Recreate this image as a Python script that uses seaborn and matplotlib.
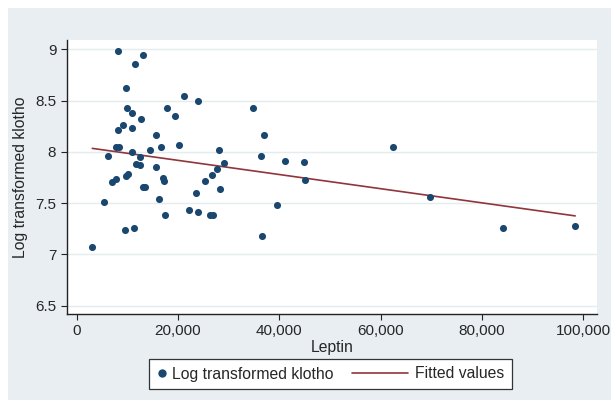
import matplotlib
matplotlib.use("Agg")
import matplotlib.pyplot as plt
import matplotlib.ticker as mticker
import pandas as pd
import seaborn as sns
from matplotlib.lines import Line2D
from matplotlib.patches import Rectangle
from matplotlib.legend_handler import HandlerBase

# leptin vs log klotho
leptin = [3100, 5500, 6200, 7000, 7700, 7800, 8400, 8100, 8100, 9100,
          9500, 9800, 9900, 9800, 10200, 10900, 10900, 11000, 11400, 11600,
          11800, 12600, 12500, 12700, 13200, 13200, 13600, 14500, 15600, 15600,
          16200, 16600, 17000, 17200, 17400, 17900, 19400, 20300, 21100, 22200,
          23600, 24000, 24000, 25300, 26300, 27000, 26700, 27800, 28100, 28300,
          29100, 34900, 36400, 37000, 36600, 39600, 41100, 44900, 45100, 62500,
          69800, 84100, 98400]
klotho = [7.07, 7.51, 7.96, 7.71, 7.74, 8.045, 8.05, 8.21, 8.98, 8.26,
          7.24, 8.62, 8.43, 7.76, 7.78, 8.38, 8.23, 8.00, 7.26, 8.86,
          7.88, 7.87, 7.95, 8.32, 8.94, 7.66, 7.66, 8.02, 8.16, 7.85,
          7.54, 8.05, 7.75, 7.72, 7.38, 8.43, 8.35, 8.07, 8.54, 7.43,
          7.60, 8.50, 7.41, 7.72, 7.38, 7.38, 7.77, 7.83, 8.02, 7.64,
          7.89, 8.43, 7.96, 8.16, 7.18, 7.48, 7.91, 7.90, 7.73, 8.05,
          7.56, 7.26, 7.28]

df = pd.DataFrame({"Leptin": leptin, "klotho": klotho})

navy = "#1a476f"
maroon = "#90353b"
bg = "#e8eef1"

sns.set_style("white")
plt.rcParams["font.family"] = ["Liberation Sans", "DejaVu Sans"]

fig = plt.figure(figsize=(6.11, 4.0), dpi=100)
fig.patch.set_facecolor("white")
fig.add_artist(Rectangle((8 / 611, 0), 1, 1 - 8 / 400, transform=fig.transFigure,
                         facecolor=bg, edgecolor="none", zorder=-5))

ax = fig.add_axes([66.7 / 611, 1 - 314 / 400, (597 - 66.7) / 611, (314 - 40) / 400])
ax.set_facecolor("white")

sns.scatterplot(data=df, x="Leptin", y="klotho", color=navy, s=26,
                linewidth=0, ax=ax, zorder=3)
sns.regplot(data=df, x="Leptin", y="klotho", scatter=False, ci=None,
            color=maroon, line_kws={"lw": 1.2}, ax=ax)

ax.set_xlim(-1950, 102700)
ax.set_ylim(6.42, 9.09)
ax.set_xticks([0, 20000, 40000, 60000, 80000, 100000])
ax.set_yticks([6.5, 7, 7.5, 8, 8.5, 9])
ax.xaxis.set_major_formatter(mticker.StrMethodFormatter("{x:,.0f}"))
ax.yaxis.set_major_formatter(mticker.FuncFormatter(lambda v, p: f"{v:g}"))

ax.yaxis.grid(True, color="#e3ecef", lw=1)
ax.set_axisbelow(True)
for s in ["top", "right"]:
    ax.spines[s].set_visible(False)
for s in ["left", "bottom"]:
    ax.spines[s].set_color("#222222")
    ax.spines[s].set_linewidth(1)

ax.tick_params(axis="both", labelsize=11, color="#222222", width=0.8,
               length=4.5, pad=3, bottom=True, left=True)
ax.set_xlabel("Leptin", fontsize=11.3, labelpad=1)
ax.set_ylabel("Log transformed klotho", fontsize=11.3, labelpad=5)


class LongLine(HandlerBase):
    # line sticks out to the left of the (short) handle box
    def create_artists(self, legend, orig_handle, xdescent, ydescent,
                       width, height, fontsize, trans):
        y = height / 2 - ydescent
        ln = Line2D([-xdescent - 34, -xdescent + width - 1.5], [y, y])
        self.update_prop(ln, orig_handle, legend)
        ln.set_transform(trans)
        return [ln]


h_pts = Line2D([], [], marker="o", ls="none", color=navy, markersize=5)
h_fit = Line2D([], [], color=maroon, lw=1.2)
leg = fig.legend([h_pts, h_fit], ["Log transformed klotho", "Fitted values"],
                 loc="center", bbox_to_anchor=(330.5 / 611, 1 - 374 / 400),
                 ncol=2, fontsize=11.3, frameon=True, fancybox=False,
                 edgecolor="#333333", facecolor="white", framealpha=1,
                 handlelength=0.7, handletextpad=0.3, columnspacing=4.2,
                 borderpad=0.45, handler_map={h_fit: LongLine()})
leg.get_frame().set_linewidth(0.9)

fig.savefig("out.png", dpi=100, facecolor=fig.get_facecolor())
